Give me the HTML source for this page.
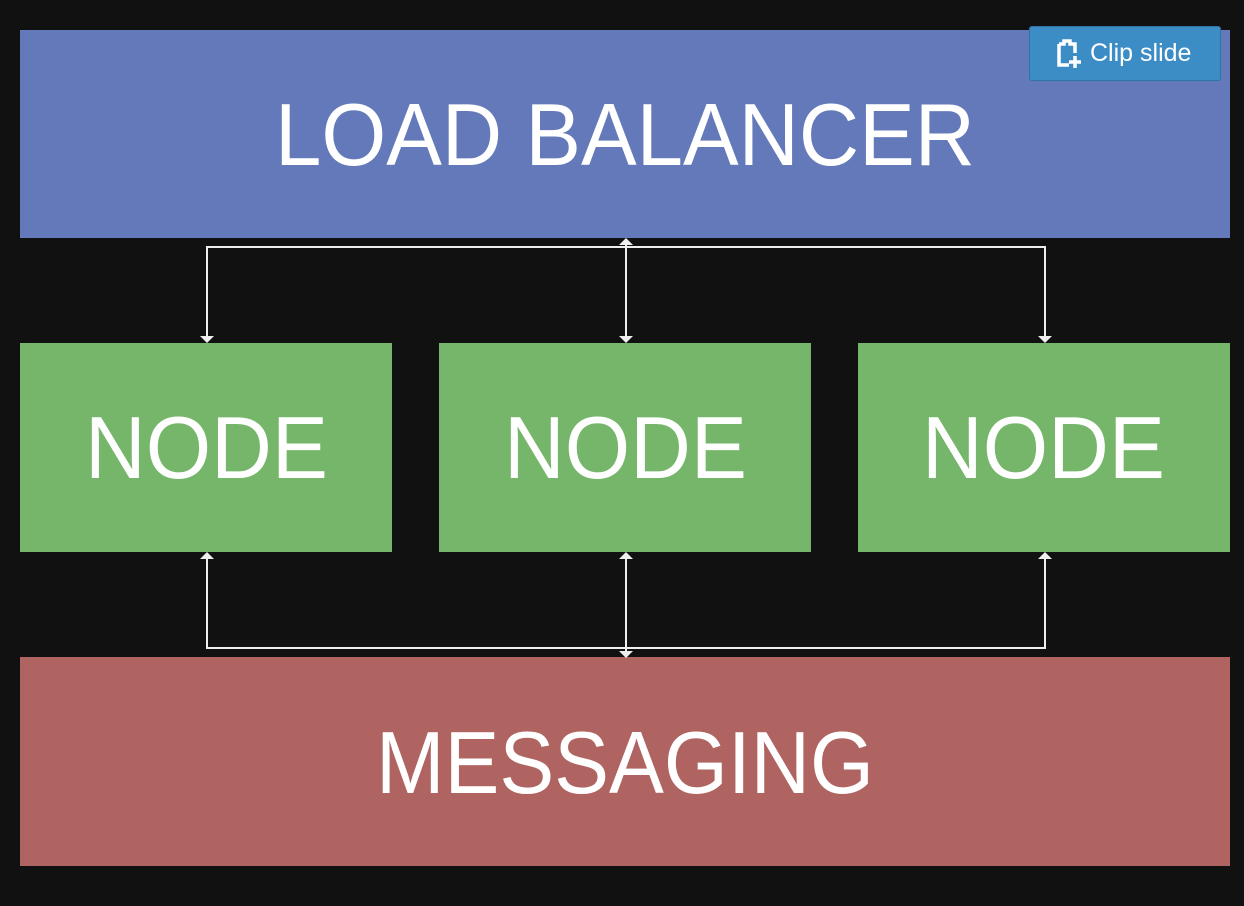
<!DOCTYPE html>
<html><head><style>
html,body{margin:0;padding:0;background:#111;}
body{width:1244px;height:906px;position:relative;overflow:hidden;font-family:"Liberation Sans",sans-serif;}
.btn{position:absolute;left:1029px;top:26px;width:192px;height:55px;background:#3c8dc5;border:1px solid #2f74a6;border-radius:3px;box-sizing:border-box;color:#fff;font-size:25px;line-height:53px;}
</style></head><body>
<svg width="1244" height="906" style="position:absolute;left:0;top:0" font-family="Liberation Sans, DejaVu Sans, sans-serif">
<rect x="20" y="30" width="1210" height="208" fill="#6479b9"/>
<rect x="20" y="343" width="372" height="209" fill="#76b66a"/>
<rect x="439" y="343" width="372" height="209" fill="#76b66a"/>
<rect x="858" y="343" width="372" height="209" fill="#76b66a"/>
<rect x="20" y="657" width="1210" height="209" fill="#b06461"/>
<g stroke="#eee" stroke-width="2" fill="none">
<polyline points="207,342 207,247 1045,247 1045,342"/>
<line x1="626" y1="240" x2="626" y2="342"/>
<polyline points="207,553 207,648 1045,648 1045,553"/>
<line x1="626" y1="553" x2="626" y2="656"/>
</g>
<g fill="#eee">
<polygon points="200,336 214,336 207,343"/>
<polygon points="619,336 633,336 626,343"/>
<polygon points="1038,336 1052,336 1045,343"/>
<polygon points="619,245 633,245 626,238"/>
<polygon points="200,559 214,559 207,552"/>
<polygon points="619,559 633,559 626,552"/>
<polygon points="1038,559 1052,559 1045,552"/>
<polygon points="619,651 633,651 626,658"/>
</g>
<g fill="#fff" font-size="88">
<text x="275" y="165" textLength="700" lengthAdjust="spacingAndGlyphs">LOAD BALANCER</text>
<text x="85" y="478" textLength="243" lengthAdjust="spacingAndGlyphs">NODE</text>
<text x="504" y="478" textLength="243" lengthAdjust="spacingAndGlyphs">NODE</text>
<text x="922" y="478" textLength="243" lengthAdjust="spacingAndGlyphs">NODE</text>
<text x="376" y="793" textLength="498" lengthAdjust="spacingAndGlyphs">MESSAGING</text>
</g>
</svg>
<div class="btn">
<svg width="26" height="30" style="position:absolute;left:26px;top:12px" viewBox="0 0 26 30">
<path d="M3 5 H8 V2 H14 V5 H19 V14" stroke="#fff" stroke-width="3.5" fill="none"/>
<path d="M3 5 V26 H13" stroke="#fff" stroke-width="3.5" fill="none"/>
<path d="M19 17 V29 M13 23 H25" stroke="#fff" stroke-width="3.5"/>
</svg>
<span style="position:absolute;left:60px;top:0">Clip slide</span>
</div>
</body></html>
